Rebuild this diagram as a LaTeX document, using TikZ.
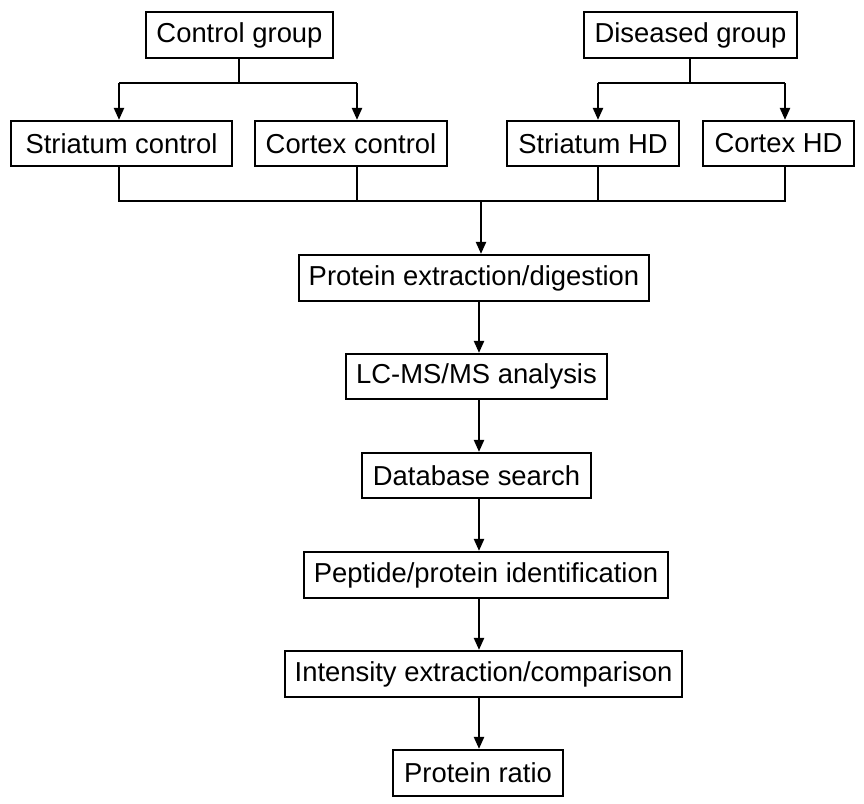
\documentclass[tikz,border=0pt]{standalone}
\usepackage{fontspec}
\setmainfont{Liberation Sans}
\usetikzlibrary{arrows.meta,calc}
\begin{document}
\begin{tikzpicture}[x=1pt,y=-1pt,
  box/.style={draw,line width=2.2pt,inner sep=0pt,minimum height=46pt,
    font=\fontsize{27.4}{31}\selectfont,anchor=center},
  ln/.style={line width=2.2pt},
  arr/.style={line width=2.2pt,-{Triangle[length=12pt,width=10pt]}}]
\useasboundingbox (0,0) rectangle (864,803);
\node[box,minimum width=187pt] (ctrl) at (239.5,35) {Control group};
\node[box,minimum width=213pt] (dis) at (690.5,35) {Diseased group};
\node[box,minimum width=221pt,minimum height=45pt] (sc) at (121.5,143.5) {Striatum control};
\node[box,minimum width=192pt,minimum height=45pt] (cc) at (351,143.5) {Cortex control};
\node[box,minimum width=172pt,minimum height=45pt] (sh) at (593,143.5) {Striatum HD};
\node[box,minimum width=151pt,minimum height=45pt] (ch) at (778.5,143.5) {Cortex HD};
\node[box,minimum width=350pt] (pe) at (474,278) {Protein extraction/digestion};
\node[box,minimum width=261pt,minimum height=45pt] (lc) at (476.5,376.5) {LC-MS/MS analysis};
\node[box,minimum width=229pt,minimum height=45pt] (db) at (476.5,475.5) {Database search};
\node[box,minimum width=364pt] (pp) at (486,575) {Peptide/protein identification};
\node[box,minimum width=397pt] (ie) at (483.5,674) {Intensity extraction/comparison};
\node[box,minimum width=170pt] (pr) at (478,773) {Protein ratio};
% control branch
\coordinate (cj) at (239,83);
\coordinate (cL) at (119,83);
\coordinate (cR) at (357,83);
\draw[ln] (ctrl.south -| cj) -- (cj);
\draw[ln] (cL) -- (cR);
\draw[arr] (cL) -- (cL |- sc.north);
\draw[arr] (cR) -- (cR |- cc.north);
% diseased branch
\coordinate (dj) at (690,83);
\coordinate (dL) at (598,83);
\coordinate (dR) at (785,83);
\draw[ln] (dis.south -| dj) -- (dj);
\draw[ln] (dL) -- (dR);
\draw[arr] (dL) -- (dL |- sh.north);
\draw[arr] (dR) -- (dR |- ch.north);
% bus
\coordinate (b1) at (119,201);
\coordinate (b2) at (357,201);
\coordinate (b3) at (598,201);
\coordinate (b4) at (785,201);
\coordinate (bj) at (481,201);
\draw[ln] (b1 |- sc.south) -- (b1) -- (b4) -- (b4 |- ch.south);
\draw[ln] (b2 |- cc.south) -- (b2);
\draw[ln] (b3 |- sh.south) -- (b3);
\draw[arr] (bj) -- (bj |- pe.north);
% pipeline
\coordinate (ax) at (479,0);
\draw[arr] (ax |- pe.south) -- (ax |- lc.north);
\draw[arr] (ax |- lc.south) -- (ax |- db.north);
\draw[arr] (ax |- db.south) -- (ax |- pp.north);
\draw[arr] (ax |- pp.south) -- (ax |- ie.north);
\draw[arr] (ax |- ie.south) -- (ax |- pr.north);
\end{tikzpicture}
\end{document}
